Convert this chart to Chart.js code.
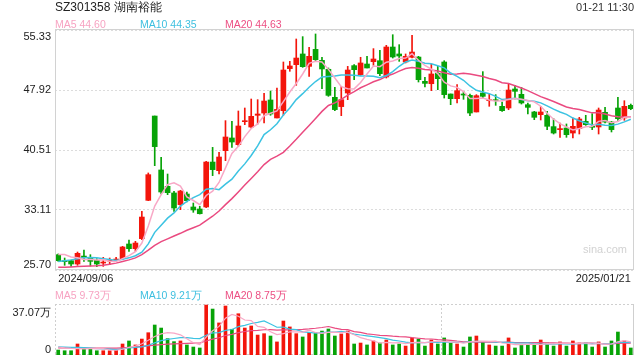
<!DOCTYPE html>
<html>
<head>
<meta charset="utf-8">
<script src="https://cdn.jsdelivr.net/npm/chart.js@4.4.1/dist/chart.umd.min.js"></script>
<style>
body { margin: 0; width: 640px; height: 360px; background: #fff; position: relative; overflow: hidden;
       font-family: "Liberation Sans", Arial, sans-serif; }
.t { position: absolute; white-space: nowrap; line-height: 1; }
#kline { position: absolute; left: 0; top: 0; }
#vol { position: absolute; left: 0; top: 296px; }
</style>
</head>
<body>
<canvas id="kline" width="640" height="290"></canvas>
<canvas id="vol" width="640" height="64"></canvas>
<div class="t" style="left:55px;top:1px;font-size:12px;color:#222;">SZ301358 湖南裕能</div>
<div class="t" style="right:6px;top:2px;font-size:11px;color:#333;">01-21 11:30</div>
<div class="t" style="left:55px;top:19px;font-size:10.5px;color:#f7a3c2;">MA5 44.60</div>
<div class="t" style="left:140px;top:19px;font-size:10.5px;color:#3dbfdf;">MA10 44.35</div>
<div class="t" style="left:225px;top:19px;font-size:10.5px;color:#ec4f83;">MA20 44.63</div>
<div class="t" style="left:55px;top:290px;font-size:10.5px;color:#f7a3c2;">MA5 9.73万</div>
<div class="t" style="left:140px;top:290px;font-size:10.5px;color:#3dbfdf;">MA10 9.21万</div>
<div class="t" style="left:225px;top:290px;font-size:10.5px;color:#ec4f83;">MA20 8.75万</div>
<div class="t" style="left:583px;top:244px;font-size:11px;color:#d2d2d2;">sina.com</div>
<script>
/* trading days */
var dates = [
    '2024/09/06','2024/09/09','2024/09/10','2024/09/11','2024/09/12','2024/09/13','2024/09/18','2024/09/19',
    '2024/09/20','2024/09/23','2024/09/24','2024/09/25','2024/09/26','2024/09/27','2024/09/30',
    '2024/10/08','2024/10/09','2024/10/10','2024/10/11','2024/10/14','2024/10/15','2024/10/16','2024/10/17',
    '2024/10/18','2024/10/21','2024/10/22','2024/10/23','2024/10/24','2024/10/25','2024/10/28','2024/10/29',
    '2024/10/30','2024/10/31',
    '2024/11/01','2024/11/04','2024/11/05','2024/11/06','2024/11/07','2024/11/08','2024/11/11','2024/11/12',
    '2024/11/13','2024/11/14','2024/11/15','2024/11/18','2024/11/19','2024/11/20','2024/11/21','2024/11/22',
    '2024/11/25','2024/11/26','2024/11/27','2024/11/28','2024/11/29',
    '2024/12/02','2024/12/03','2024/12/04','2024/12/05','2024/12/06','2024/12/09','2024/12/10','2024/12/11',
    '2024/12/12','2024/12/13','2024/12/16','2024/12/17','2024/12/18','2024/12/19','2024/12/20','2024/12/23',
    '2024/12/24','2024/12/25','2024/12/26','2024/12/27','2024/12/30','2024/12/31',
    '2025/01/02','2025/01/03','2025/01/06','2025/01/07','2025/01/08','2025/01/09','2025/01/10','2025/01/13',
    '2025/01/14','2025/01/15','2025/01/16','2025/01/17','2025/01/20','2025/01/21'
];
var opens = [
    27.59, 26.85, 26.85, 26.44, 27.42, 27.26, 26.89, 26.56, 26.81, 26.93,
    27.10, 28.91, 28.33, 29.57, 34.30, 44.71, 38.05, 36.03, 35.21, 33.77,
    35.08, 33.48, 33.23, 33.48, 39.03, 37.96, 40.43, 42.00, 41.17, 44.01,
    43.35, 44.80, 45.08, 46.69, 44.47, 45.37, 50.56, 51.05, 52.37, 50.84,
    52.94, 51.58, 50.48, 47.02, 45.87, 47.55, 50.93, 49.82, 51.13, 51.42,
    51.54, 49.53, 53.23, 52.37, 51.38, 51.96, 51.99, 48.99, 48.70, 49.98,
    51.38, 47.43, 46.85, 47.43, 47.26, 45.21, 47.55, 46.60, 46.69, 45.91,
    45.70, 48.05, 47.39, 46.11, 45.21, 44.88, 44.80, 43.40, 43.03, 43.23,
    42.61, 43.15, 44.05, 43.36, 43.36, 45.17, 43.97, 45.70, 44.47, 46.03
];
var highs = [
    27.68, 27.18, 26.93, 27.92, 28.17, 27.59, 27.10, 27.26, 27.18, 27.26,
    28.62, 29.40, 29.24, 32.94, 37.68, 44.71, 39.61, 37.55, 35.41, 35.54,
    35.33, 33.97, 33.56, 39.12, 40.84, 40.23, 44.14, 44.05, 45.33, 45.70,
    46.81, 46.73, 47.51, 47.80, 48.17, 51.38, 51.46, 54.22, 54.51, 53.19,
    54.84, 51.95, 50.64, 48.25, 48.38, 50.84, 51.05, 51.96, 52.08, 53.03,
    52.82, 53.44, 54.75, 53.52, 52.37, 54.67, 52.08, 49.49, 51.13, 50.84,
    51.54, 47.43, 48.58, 47.76, 47.43, 47.35, 50.19, 47.43, 47.35, 46.44,
    48.66, 48.50, 48.25, 46.32, 45.29, 45.91, 45.29, 44.38, 43.85, 43.73,
    44.47, 44.55, 44.80, 45.00, 45.70, 45.78, 44.05, 47.02, 46.60, 46.19
];
var lows = [
    26.77, 26.28, 26.15, 26.28, 26.77, 26.19, 26.11, 26.15, 26.36, 26.77,
    27.01, 28.00, 28.00, 29.45, 34.26, 38.58, 35.08, 35.00, 32.94, 33.15,
    34.09, 32.82, 32.61, 33.40, 37.35, 37.55, 39.20, 40.84, 40.97, 43.64,
    43.23, 43.72, 43.85, 44.80, 44.47, 44.80, 50.23, 48.50, 50.72, 49.61,
    51.46, 48.09, 47.14, 45.37, 44.75, 46.73, 49.20, 49.73, 50.64, 50.97,
    49.69, 49.40, 51.87, 51.46, 51.26, 51.87, 48.91, 48.29, 47.84, 47.96,
    46.93, 46.11, 46.32, 46.77, 44.75, 45.21, 46.93, 45.91, 46.03, 45.29,
    45.49, 46.81, 46.19, 44.96, 44.26, 44.22, 43.03, 42.49, 42.08, 42.08,
    42.00, 42.49, 43.56, 43.03, 42.49, 43.85, 42.74, 44.18, 44.18, 45.49
];
var closes = [
    26.85, 26.73, 26.44, 27.76, 27.26, 26.77, 26.44, 26.60, 26.89, 27.01,
    28.54, 28.33, 29.03, 32.24, 37.47, 40.93, 35.33, 35.25, 33.35, 35.45,
    34.26, 33.11, 32.65, 39.03, 38.09, 39.65, 42.12, 41.50, 43.48, 44.10,
    44.67, 44.96, 46.56, 44.96, 45.53, 50.39, 50.89, 51.87, 50.80, 52.08,
    51.67, 50.52, 47.26, 45.50, 46.73, 50.39, 50.43, 51.26, 50.64, 51.75,
    49.94, 53.23, 52.00, 52.12, 52.08, 52.61, 49.20, 48.74, 49.90, 49.32,
    47.35, 46.85, 47.84, 47.30, 45.08, 47.22, 47.14, 46.69, 46.60, 45.37,
    47.92, 47.76, 46.32, 45.78, 44.55, 45.21, 43.44, 42.61, 43.11, 42.41,
    43.44, 44.34, 43.64, 43.32, 45.45, 43.97, 43.03, 44.38, 45.91, 45.62
];
var ma5 = [
    27.60, 27.60, 27.30, 27.20, 27.01, 26.99, 26.93, 26.97, 26.79, 26.74,
    27.10, 27.47, 27.96, 29.03, 31.12, 33.60, 35.00, 36.24, 36.47, 36.06,
    34.73, 34.28, 33.76, 34.90, 35.43, 36.51, 38.31, 40.08, 40.97, 42.17,
    43.17, 43.74, 44.75, 45.05, 45.34, 46.48, 47.67, 48.73, 49.90, 51.21,
    51.46, 51.39, 50.47, 49.41, 48.34, 48.08, 48.06, 48.86, 49.89, 50.89,
    50.80, 51.36, 51.51, 51.81, 51.87, 52.41, 51.60, 50.95, 50.51, 49.95,
    48.90, 48.43, 48.25, 47.73, 46.88, 46.86, 46.92, 46.69, 46.55, 46.60,
    46.74, 46.87, 46.79, 46.63, 46.47, 45.92, 45.06, 44.32, 43.78, 43.36,
    43.00, 43.18, 43.39, 43.44, 44.05, 44.15, 43.89, 44.04, 44.55, 44.58
];
var ma10 = [
    26.75, 26.85, 26.95, 27.10, 27.20, 27.25, 27.20, 27.10, 27.00, 26.88,
    27.04, 27.20, 27.46, 27.91, 28.93, 30.35, 31.24, 32.10, 32.75, 33.59,
    34.16, 34.64, 35.00, 35.68, 35.75, 35.62, 36.30, 36.92, 37.93, 38.80,
    39.84, 41.03, 42.42, 43.01, 43.75, 44.83, 45.70, 46.74, 47.47, 48.27,
    48.97, 49.53, 49.60, 49.65, 49.77, 49.77, 49.73, 49.66, 49.65, 49.62,
    49.44, 49.71, 50.19, 50.85, 51.38, 51.61, 51.48, 51.23, 51.16, 50.91,
    50.66, 50.02, 49.60, 49.12, 48.42, 47.88, 47.67, 47.47, 47.14, 46.74,
    46.80, 46.89, 46.74, 46.59, 46.54, 46.33, 45.96, 45.56, 45.21, 44.91,
    44.46, 44.12, 43.85, 43.61, 43.70, 43.58, 43.54, 43.71, 43.99, 44.31
];
var ma20 = [
    26.03, 26.05, 26.08, 26.12, 26.15, 26.19, 26.23, 26.30, 26.40, 26.55,
    26.75, 26.95, 27.20, 27.60, 28.15, 28.75, 29.20, 29.55, 29.90, 30.23,
    30.60, 30.92, 31.23, 31.80, 32.34, 32.98, 33.77, 34.51, 35.34, 36.20,
    37.00, 37.83, 38.71, 39.35, 39.75, 40.22, 41.00, 41.83, 42.70, 43.54,
    44.41, 45.28, 46.01, 46.33, 46.76, 47.30, 47.71, 48.20, 48.56, 48.94,
    49.21, 49.62, 49.89, 50.25, 50.58, 50.69, 50.60, 50.45, 50.40, 50.26,
    50.05, 49.87, 49.89, 49.98, 49.90, 49.74, 49.58, 49.35, 49.15, 48.83,
    48.73, 48.45, 48.17, 47.85, 47.48, 47.11, 46.82, 46.51, 46.17, 45.83,
    45.63, 45.51, 45.30, 45.10, 45.12, 44.96, 44.75, 44.63, 44.60, 44.61
];
/* volume, in 万 */
var volumes = [
    3.6, 3.1, 3.1, 8.0, 4.4, 4.4, 3.1, 3.1, 3.1, 3.6,
    8.0, 10.2, 7.3, 11.6, 16.2, 21.8, 19.6, 11.9, 9.7, 10.2,
    7.3, 5.8, 5.1, 36.3, 33.4, 23.3, 35.6, 18.7, 30.0, 19.6,
    21.1, 14.5, 15.5, 13.8, 9.5, 24.7, 20.4, 15.5, 13.1, 16.5,
    16.2, 17.4, 18.9, 13.8, 15.3, 17.4, 8.0, 8.7, 7.3, 10.2,
    8.7, 10.9, 7.3, 8.0, 6.5, 12.4, 11.6, 6.5, 10.9, 8.0,
    12.4, 8.7, 8.0, 5.8, 13.1, 13.8, 9.5, 7.3, 6.5, 6.5,
    12.4, 5.1, 7.3, 7.3, 7.3, 10.9, 8.7, 6.5, 9.5, 6.5,
    10.2, 8.7, 8.7, 5.8, 9.5, 5.8, 10.2, 16.7, 10.2, 5.1
];
var vma5 = [
    5.8, 5.2, 4.8, 4.6, 4.44, 4.60, 4.60, 4.60, 3.62, 3.46,
    4.18, 5.60, 6.44, 8.14, 10.66, 13.42, 15.30, 16.22, 15.84, 14.64,
    11.74, 8.98, 7.62, 12.94, 17.58, 20.78, 26.74, 29.46, 28.20, 25.44,
    25.00, 20.78, 20.14, 16.90, 14.88, 15.60, 16.78, 16.78, 16.64, 18.04,
    16.34, 15.74, 16.42, 16.56, 16.32, 16.56, 14.68, 12.64, 11.34, 10.32,
    8.58, 9.16, 8.88, 9.02, 8.28, 9.02, 9.16, 9.00, 9.58, 9.88,
    9.88, 9.30, 9.60, 8.58, 9.60, 9.88, 10.04, 9.90, 10.04, 8.72,
    8.44, 7.56, 7.56, 7.72, 7.88, 7.58, 8.30, 8.14, 8.58, 8.42,
    8.28, 8.28, 8.72, 7.98, 8.58, 7.70, 8.00, 9.60, 10.48, 9.60
];
var vma10 = [
    6.0, 5.8, 5.6, 5.5, 5.3, 5.0, 4.7, 4.4, 4.2, 3.95,
    4.39, 5.10, 5.52, 5.88, 7.06, 8.80, 10.45, 11.33, 11.99, 12.65,
    12.58, 12.14, 11.92, 14.39, 16.11, 16.26, 17.86, 18.54, 20.57, 21.51,
    22.89, 23.76, 24.80, 22.55, 20.16, 20.30, 18.78, 18.46, 16.77, 16.46,
    15.97, 16.26, 16.60, 16.60, 17.18, 16.45, 15.21, 14.53, 13.95, 13.32,
    12.57, 11.92, 10.76, 10.18, 9.30, 8.80, 9.16, 8.94, 9.30, 9.08,
    9.45, 9.23, 9.30, 9.08, 9.74, 9.88, 9.67, 9.75, 9.31, 9.16,
    9.16, 8.80, 8.73, 8.88, 8.30, 8.01, 7.93, 7.85, 8.15, 8.15,
    7.93, 8.29, 8.43, 8.28, 8.50, 7.99, 8.14, 9.16, 9.23, 9.09
];
var vma20 = [
    5.2, 5.2, 5.2, 5.2, 5.1, 5.1, 5.0, 5.0, 5.0, 5.0,
    5.2, 5.5, 5.8, 6.2, 6.7, 7.2, 7.6, 7.9, 8.1, 8.30,
    8.49, 8.62, 8.72, 10.14, 11.59, 12.53, 14.16, 14.94, 16.28, 17.08,
    17.74, 17.95, 18.36, 18.47, 18.14, 18.28, 18.32, 18.50, 18.67, 18.99,
    19.43, 20.01, 20.70, 19.58, 18.67, 18.38, 17.00, 16.50, 15.36, 14.89,
    14.27, 14.09, 13.68, 13.39, 13.24, 12.63, 12.19, 11.74, 11.63, 11.20,
    11.01, 10.58, 10.03, 9.63, 9.52, 9.34, 9.42, 9.35, 9.31, 9.12,
    9.31, 9.02, 9.02, 8.98, 9.02, 8.95, 8.80, 8.80, 8.73, 8.66,
    8.55, 8.55, 8.58, 8.58, 8.40, 8.00, 8.04, 8.51, 8.69, 8.62
];
var priceTicks = [25.70, 33.11, 40.51, 47.92, 55.33];
var volTicks = [0, 37.07];

var RED = '#f3150b';
var GREEN = '#07a307';
var C_MA5 = '#f8a8c6';
var C_MA10 = '#3cc3e2';
var C_MA20 = '#ea4a80';
var FONT = '11px "Liberation Sans", Arial, sans-serif';

Chart.defaults.font.family = '"Liberation Sans", Arial, sans-serif';
Chart.defaults.font.size = 11;
Chart.defaults.color = '#222';

var candleColors = closes.map(function(c, i) { return c >= opens[i] ? RED : GREEN; });

function maLine(data, color, width) {
    return {
        type: 'line',
        data: data,
        borderColor: color,
        borderWidth: width,
        pointRadius: 0,
        tension: 0,
        fill: false,
        order: 0
    };
}

// y labels: bottom one sits above the axis end, top one below it
function drawYLabels(chart, ticks, fmt, topShift) {
    var s = chart.scales.y;
    var ctx = chart.ctx;
    var x = chart.chartArea.left - 4;
    ctx.save();
    ctx.font = FONT;
    ctx.fillStyle = '#222';
    ctx.textAlign = 'right';
    ticks.forEach(function(v, i) {
        var y = s.getPixelForValue(v);
        if (i === 0) {
            ctx.textBaseline = 'bottom';
            ctx.fillText(fmt(v), x, y);
        } else if (i === ticks.length - 1) {
            ctx.textBaseline = 'top';
            ctx.fillText(fmt(v), x, y + topShift);
        } else {
            ctx.textBaseline = 'middle';
            ctx.fillText(fmt(v), x, y);
        }
    });
    ctx.restore();
}

var frame = {
    id: 'frame',
    afterDraw: function(chart) {
        var a = chart.chartArea;
        var ctx = chart.ctx;
        ctx.save();
        ctx.strokeStyle = '#d2d2d2';
        ctx.lineWidth = 1;
        ctx.strokeRect(a.left + 0.5, a.top - 0.5, a.right - a.left - 1, a.bottom - a.top);
        ctx.restore();
        drawYLabels(chart, priceTicks, function(v) { return v.toFixed(2); }, 1);
    }
};

new Chart(document.getElementById('kline'), {
    type: 'bar',
    data: {
        labels: dates,
        datasets: [
            maLine(ma5, C_MA5, 1.5),
            maLine(ma10, C_MA10, 1.5),
            maLine(ma20, C_MA20, 1.5),
            {
                data: opens.map(function(o, i) { return [Math.min(o, closes[i]), Math.max(o, closes[i])]; }),
                backgroundColor: candleColors,
                barThickness: 5,
                minBarLength: 1,
                grouped: false,
                order: 1
            },
            {
                data: lows.map(function(l, i) { return [l, highs[i]]; }),
                backgroundColor: candleColors,
                barThickness: 1,
                grouped: false,
                order: 2
            }
        ]
    },
    options: {
        responsive: false,
        animation: false,
        layout: { padding: { top: 30, right: 6, bottom: 0, left: 0 } },
        plugins: { legend: { display: false }, tooltip: { enabled: false } },
        scales: {
            x: {
                grid: { display: false, drawTicks: false },
                border: { display: false },
                ticks: {
                    autoSkip: false,
                    maxRotation: 0,
                    align: 'inner',
                    padding: 2,
                    color: '#222',
                    callback: function(v, i) { return (i === 0 || i === dates.length - 1) ? dates[i] : ''; }
                },
                afterFit: function(s) { s.height = 20; }
            },
            y: {
                min: 25.70,
                max: 55.33,
                afterBuildTicks: function(s) { s.ticks = priceTicks.map(function(v) { return { value: v }; }); },
                afterFit: function(s) { s.width = 55; },
                grid: { color: '#dcdcdc', lineWidth: 1, drawTicks: false },
                border: { display: false, dash: [2, 2] },
                ticks: { display: false }
            }
        }
    },
    plugins: [frame]
});

var volFrame = {
    id: 'volFrame',
    beforeDatasetsDraw: function(chart) {
        var a = chart.chartArea;
        var ctx = chart.ctx;
        var xs = chart.scales.x;
        var mx = Math.round((xs.getPixelForValue(59) + xs.getPixelForValue(60)) / 2) + 0.5;
        ctx.save();
        ctx.strokeStyle = '#cfcfcf';
        ctx.lineWidth = 1;
        ctx.setLineDash([2, 2]);
        ctx.beginPath();
        ctx.moveTo(a.left, a.top + 0.5); ctx.lineTo(a.right, a.top + 0.5);
        ctx.moveTo(a.left, a.bottom - 0.5); ctx.lineTo(a.right, a.bottom - 0.5);
        ctx.moveTo(a.left + 0.5, a.top); ctx.lineTo(a.left + 0.5, a.bottom);
        ctx.moveTo(mx, a.top); ctx.lineTo(mx, a.bottom);
        ctx.stroke();
        ctx.setLineDash([]);
        ctx.beginPath();
        ctx.moveTo(a.right - 0.5, a.top); ctx.lineTo(a.right - 0.5, a.bottom);
        ctx.stroke();
        ctx.restore();
    },
    afterDraw: function(chart) {
        drawYLabels(chart, volTicks, function(v) { return v === 0 ? '0' : v.toFixed(2) + '万'; }, 3);
    }
};

new Chart(document.getElementById('vol'), {
    type: 'bar',
    data: {
        labels: dates,
        datasets: [
            maLine(vma5, C_MA5, 1.2),
            maLine(vma10, C_MA10, 1.2),
            maLine(vma20, C_MA20, 1.2),
            {
                data: volumes,
                backgroundColor: candleColors,
                barThickness: 3,
                grouped: false,
                order: 1
            }
        ]
    },
    options: {
        responsive: false,
        animation: false,
        layout: { padding: { top: 8, right: 6, bottom: 5, left: 0 } },
        plugins: { legend: { display: false }, tooltip: { enabled: false } },
        scales: {
            x: { display: false },
            y: {
                min: 0,
                max: 37.07,
                afterBuildTicks: function(s) { s.ticks = volTicks.map(function(v) { return { value: v }; }); },
                afterFit: function(s) { s.width = 55; },
                grid: { display: false },
                border: { display: false },
                ticks: { display: false }
            }
        }
    },
    plugins: [volFrame]
});
</script>
</body>
</html>
